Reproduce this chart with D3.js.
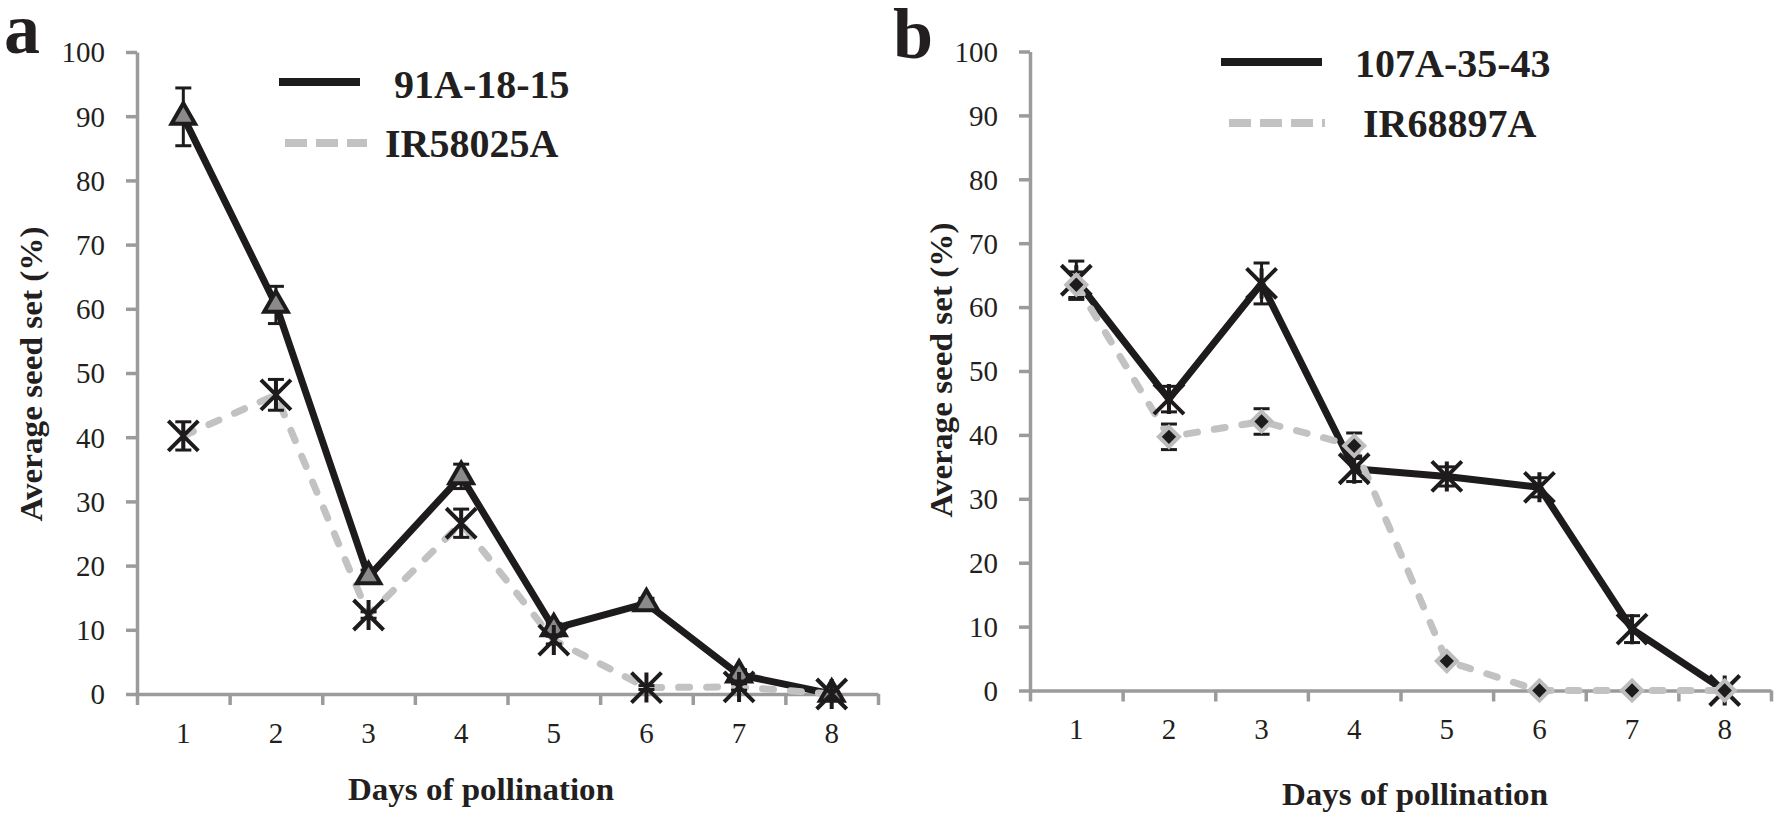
<!DOCTYPE html>
<html><head><meta charset="utf-8">
<script src="https://cdn.jsdelivr.net/npm/d3@7"></script>
<style>
body{margin:0;background:#fff}
svg{display:block}
svg text{font-family:'Liberation Serif','Times New Roman',Times,'DejaVu Serif',serif !important;fill:#231f20}
</style>
</head><body>
<svg id="chart" width="1776" height="820"></svg>
<script>
// ---------- data ----------
const days = [1, 2, 3, 4, 5, 6, 7, 8];
const yTicks = [0, 10, 20, 30, 40, 50, 60, 70, 80, 90, 100];

// panel a
const a91A = [89.9, 60.6, 18.3, 33.9, 10.2, 14.1, 3.0, 0];
const a91AErr = [4.5, 2.9, 1.0, 1.9, 0.8, 0.8, 0.8, 0];
const aIR58025A = [40.2, 46.6, 12.3, 26.6, 8.4, 1.0, 1.1, 0];
const aIR58025AErr = [2.2, 2.4, 0.5, 2.2, 0.6, 0.3, 0.5, 0];

// panel b
const b107A = [64.2, 45.6, 63.7, 34.7, 33.5, 31.8, 9.6, 0];
const b107AErr = [3.0, 2.0, 3.2, 2.0, 1.5, 1.5, 2.1, 0];
const bIR68897A = [63.5, 39.7, 42.1, 38.3, 4.6, 0, 0, 0];
const bIR68897AErr = [2.0, 2.0, 2.0, 2.0, 0.3, 0, 0, 0];

const panelLetters = ["a", "b"];
const legendNames = [["91A-18-15", "IR58025A"], ["107A-35-43", "IR68897A"]];
const xTitle = "Days of pollination";
const yTitle = "Average seed set (%)";

// ---------- helpers ----------
const FONT = "'Liberation Serif','Times New Roman',Times,'DejaVu Serif',serif";
const svg = d3.select("#chart");
const AXIS = "#9b9b9b", INK = "#1e1b1c", LGRAY = "#c2c2c2";

const asteriskType = {
  draw(ctx, size) {
    const r = Math.sqrt(size) / 2;
    ctx.moveTo(-r, -r); ctx.lineTo(r, r);
    ctx.moveTo(-r, r); ctx.lineTo(r, -r);
    ctx.moveTo(0, -r); ctx.lineTo(0, r);
  }
};

const panels = [
  {
    letter: panelLetters[0], lx: 4, ly: 53,
    x0: 137, x1: 878, yBot: 694, yTop: 52, tickBase: 743,
    yTitleX: 32, yTitleY: 374, yTitleLen: 295,
    xTitleX: 481, xTitleY: 800,
    legLine: [279, 360], legDash: [285, 367], legY: [82, 143], legTextX: [394, 385], legTextY: [98, 157],
    names: legendNames[0],
    s1: {vals: a91A, err: a91AErr, marker: "triangle"},
    s2: {vals: aIR58025A, err: aIR58025AErr, marker: "asterisk"}
  },
  {
    letter: panelLetters[1], lx: 893, ly: 58,
    x0: 1030, x1: 1771, yBot: 690.5, yTop: 51.5, tickBase: 739,
    yTitleX: 942, yTitleY: 370, yTitleLen: 295,
    xTitleX: 1415, xTitleY: 805,
    legLine: [1221, 1322], legDash: [1229, 1325], legY: [62, 123], legTextX: [1355, 1363], legTextY: [77, 137],
    names: legendNames[1],
    s1: {vals: b107A, err: b107AErr, marker: "asterisk"},
    s2: {vals: bIR68897A, err: bIR68897AErr, marker: "diamond"}
  }
];

panels.forEach(p => {
  const g = svg.append("g").attr("font-family", FONT);
  const x = d3.scaleLinear().domain([0.5, 8.5]).range([p.x0, p.x1]);
  const y = d3.scaleLinear().domain([0, 100]).range([p.yBot, p.yTop]);

  // y axis
  const ya = g.append("g").attr("transform", `translate(${p.x0},0)`)
    .call(d3.axisLeft(y).tickValues(yTicks).tickSize(11).tickSizeOuter(0).tickPadding(21));
  ya.attr("font-family", FONT).attr("font-size", 29);
  ya.select(".domain").attr("stroke", AXIS).attr("stroke-width", 3.5);
  ya.selectAll(".tick line").attr("stroke", AXIS).attr("stroke-width", 3.5);
  ya.selectAll(".tick text").attr("font-size", 29).attr("font-family", FONT).attr("fill", "#231f20").attr("dy", "0.34em");

  // x axis (ticks between categories)
  const xa = g.append("g").attr("transform", `translate(0,${p.yBot})`)
    .call(d3.axisBottom(x).tickValues(d3.range(0.5, 9, 1)).tickSize(11).tickSizeOuter(0).tickFormat(""));
  xa.attr("font-family", FONT);
  xa.select(".domain").attr("stroke", AXIS).attr("stroke-width", 3.5);
  xa.selectAll(".tick line").attr("stroke", AXIS).attr("stroke-width", 3.5);

  g.selectAll(".xl").data(days).join("text")
    .attr("x", d => x(d)).attr("y", p.tickBase).attr("font-family", FONT)
    .attr("text-anchor", "middle").attr("font-size", 29).text(d => d);

  // titles
  g.append("text").attr("x", p.xTitleX).attr("y", p.xTitleY).attr("text-anchor", "middle")
    .attr("font-size", 31).attr("font-weight", "bold").attr("font-family", FONT)
    .attr("textLength", 266).attr("lengthAdjust", "spacingAndGlyphs").text(xTitle);
  g.append("text").attr("transform", `translate(${p.yTitleX + 10},${p.yTitleY}) rotate(-90)`)
    .attr("text-anchor", "middle").attr("font-size", 31).attr("font-weight", "bold").attr("font-family", FONT)
    .attr("textLength", p.yTitleLen).attr("lengthAdjust", "spacingAndGlyphs").text(yTitle);
  g.append("text").attr("x", p.lx).attr("y", p.ly).attr("font-size", 72).attr("font-weight", "bold")
    .attr("font-family", FONT).text(p.letter);

  // legend
  g.append("line").attr("x1", p.legLine[0]).attr("x2", p.legLine[1]).attr("y1", p.legY[0]).attr("y2", p.legY[0])
    .attr("stroke", INK).attr("stroke-width", 8);
  g.append("line").attr("x1", p.legDash[0]).attr("x2", p.legDash[1]).attr("y1", p.legY[1]).attr("y2", p.legY[1])
    .attr("stroke", LGRAY).attr("stroke-width", 8).attr("stroke-dasharray", "22,9");
  p.names.forEach((n, i) => {
    g.append("text").attr("x", p.legTextX[i]).attr("y", p.legTextY[i]).attr("font-family", FONT)
      .attr("font-size", 40).attr("font-weight", "bold").text(n);
  });

  const pts = s => days.map((d, i) => ({d, v: s.vals[i], e: s.err[i]}));
  const line = d3.line().x(d => x(d.d)).y(d => y(d.v));

  // lines
  g.append("path").datum(pts(p.s1)).attr("d", line).attr("fill", "none")
    .attr("stroke", INK).attr("stroke-width", 7).attr("stroke-linejoin", "round");
  g.append("path").datum(pts(p.s2)).attr("d", line).attr("fill", "none")
    .attr("stroke", LGRAY).attr("stroke-width", 7).attr("stroke-linecap", "round")
    .attr("stroke-dasharray", "11,17");

  // error bars
  [p.s1, p.s2].forEach(s => {
    const eb = g.append("g").attr("stroke", INK).attr("stroke-width", 3);
    pts(s).filter(d => d.e > 0).forEach(d => {
      const cx = x(d.d), yt = y(d.v + d.e), yb = y(d.v - d.e);
      eb.append("line").attr("x1", cx).attr("x2", cx).attr("y1", yt).attr("y2", yb);
      eb.append("line").attr("x1", cx - 8).attr("x2", cx + 8).attr("y1", yt).attr("y2", yt);
      eb.append("line").attr("x1", cx - 8).attr("x2", cx + 8).attr("y1", yb).attr("y2", yb);
    });
  });

  // markers
  [p.s1, p.s2].forEach(s => {
    const mg = g.append("g");
    pts(s).forEach(d => {
      const t = `translate(${x(d.d)},${y(d.v)})`;
      if (s.marker === "triangle") {
        mg.append("path").attr("transform", t)
          .attr("d", d3.symbol().type(d3.symbolTriangle).size(240)())
          .attr("fill", "#8a8a8a").attr("stroke", INK).attr("stroke-width", 4).attr("stroke-linejoin", "miter");
      } else if (s.marker === "asterisk") {
        mg.append("path").attr("transform", t)
          .attr("d", d3.symbol().type(asteriskType).size(30 * 30)())
          .attr("fill", "none").attr("stroke", INK).attr("stroke-width", 4);
      } else {
        mg.append("path").attr("transform", t + " rotate(45)")
          .attr("d", d3.symbol().type(d3.symbolSquare).size(200)())
          .attr("fill", INK).attr("stroke", "#bdbdbd").attr("stroke-width", 4);
      }
    });
  });
});
</script>
</body></html>
